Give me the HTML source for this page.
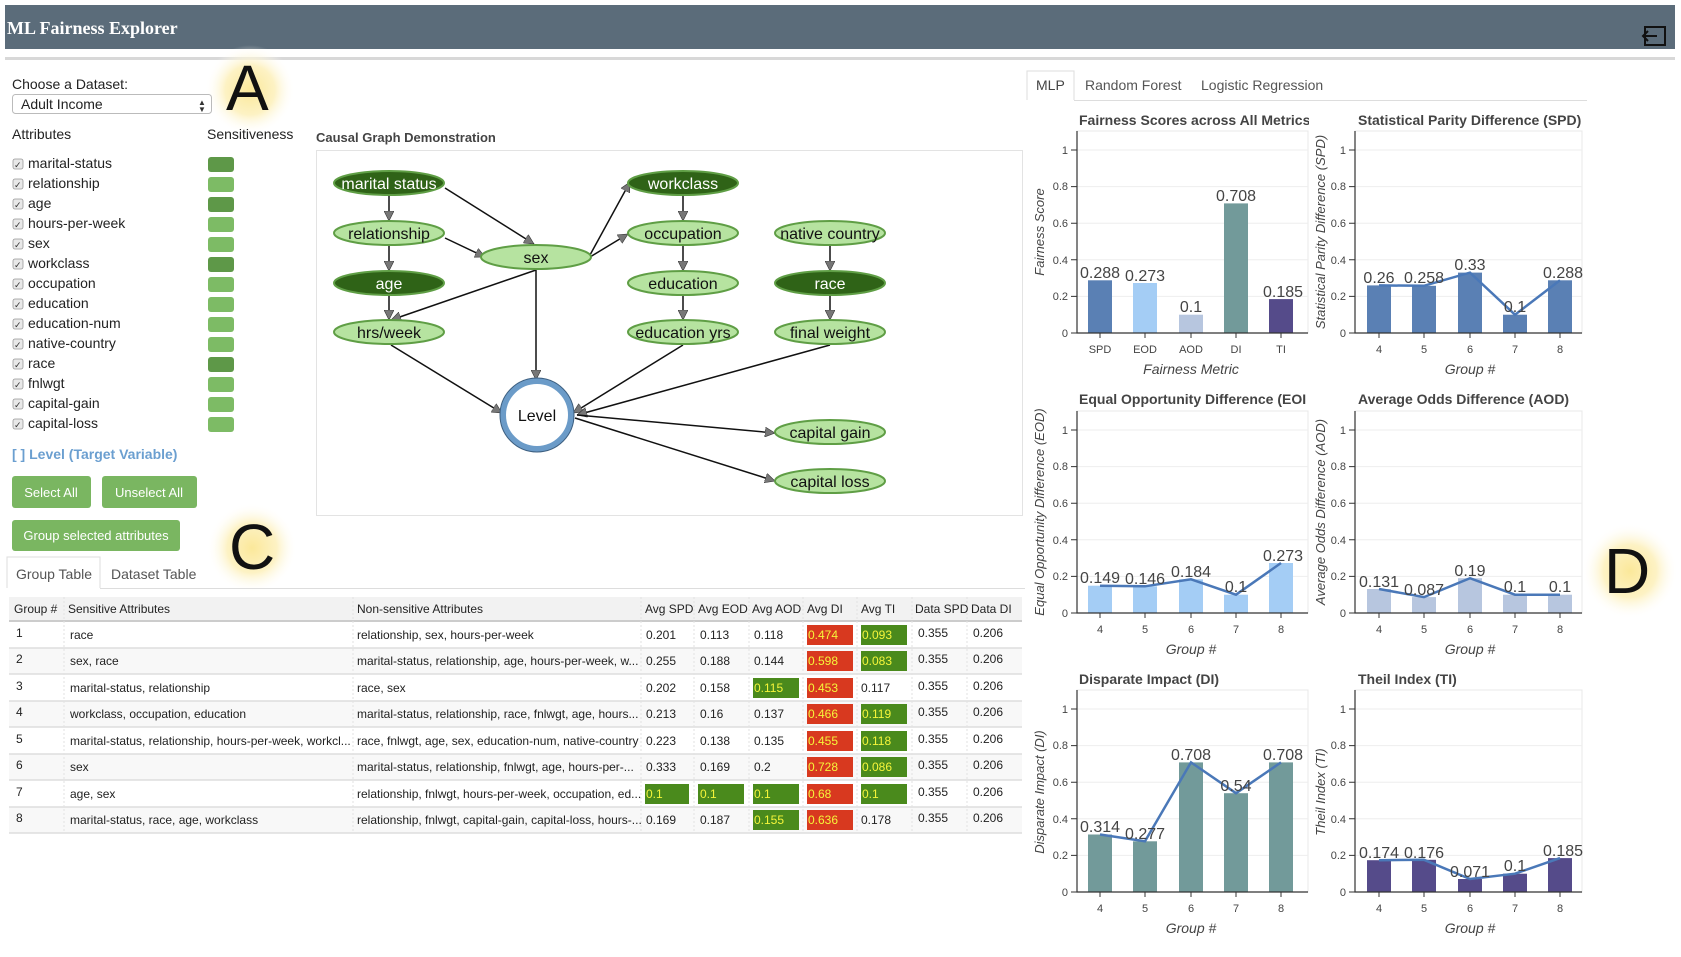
<!DOCTYPE html>
<html><head><meta charset="utf-8"><style>
body{margin:0;background:#fff;}
svg text{font-family:"Liberation Sans",sans-serif;}
</style></head><body>
<svg width="1681" height="952" viewBox="0 0 1681 952" xmlns="http://www.w3.org/2000/svg">
<defs>
<radialGradient id="glow"><stop offset="0" stop-color="#fbe89a"/><stop offset="0.55" stop-color="#fdf2c4"/><stop offset="1" stop-color="#fff" stop-opacity="0"/></radialGradient>
<marker id="ah" viewBox="0 0 10 10" refX="10" refY="5" markerWidth="10" markerHeight="10" markerUnits="userSpaceOnUse" orient="auto"><path d="M0,0 L10,5 L0,10 z" fill="#777" stroke="#333" stroke-width="0.6"/></marker>
</defs>
<rect width="1681" height="952" fill="#fff"/>
<rect x="5" y="5" width="1670" height="44" fill="#5b6c7a"/>
<text x="7" y="34" font-weight="bold" font-size="18" fill="#fff" style="font-family:'Liberation Serif',serif">ML Fairness Explorer</text>
<rect x="1645" y="27" width="20" height="18" fill="none" stroke="#111" stroke-width="2"/>
<path d="M1643 36 h14 M1648 31 l-5 5 5 5" stroke="#111" stroke-width="2" fill="none"/>
<rect x="5" y="57" width="1670" height="3" fill="#d8d8d8"/>

<circle cx="250" cy="90" r="45" fill="url(#glow)"/>
<circle cx="252" cy="548" r="45" fill="url(#glow)"/>
<circle cx="960" cy="340" r="48" fill="url(#glow)"/>
<circle cx="1630" cy="571" r="48" fill="url(#glow)"/>
<text x="226" y="110" font-size="64" fill="#111">A</text>
<text x="229" y="569" font-size="64" fill="#111">C</text>
<text x="938" y="362" font-size="64" fill="#111">B</text>
<text x="1604" y="593" font-size="64" fill="#111">D</text>

<text x="12" y="89" font-size="14" fill="#222">Choose a Dataset:</text>
<rect x="12.5" y="94.5" width="199" height="19" rx="3" fill="#fff" stroke="#bbb"/>
<text x="21" y="109" font-size="14" fill="#222">Adult Income</text>
<text x="198" y="105" font-size="8" fill="#333">▲</text><text x="198" y="112" font-size="8" fill="#333">▼</text>
<text x="12" y="139" font-size="14" fill="#222">Attributes</text>
<text x="207" y="139" font-size="14" fill="#222">Sensitiveness</text>
<g font-size="14" fill="#222">
<text x="28" y="168">marital-status</text>
<text x="28" y="188">relationship</text>
<text x="28" y="208">age</text>
<text x="28" y="228">hours-per-week</text>
<text x="28" y="248">sex</text>
<text x="28" y="268">workclass</text>
<text x="28" y="288">occupation</text>
<text x="28" y="308">education</text>
<text x="28" y="328">education-num</text>
<text x="28" y="348">native-country</text>
<text x="28" y="368">race</text>
<text x="28" y="388">fnlwgt</text>
<text x="28" y="408">capital-gain</text>
<text x="28" y="428">capital-loss</text>
</g>
<g fill="#e8e8e8" stroke="#999" stroke-width="0.8">
<rect x="13" y="159" width="10" height="10" rx="2"/><rect x="13" y="179" width="10" height="10" rx="2"/><rect x="13" y="199" width="10" height="10" rx="2"/><rect x="13" y="219" width="10" height="10" rx="2"/><rect x="13" y="239" width="10" height="10" rx="2"/><rect x="13" y="259" width="10" height="10" rx="2"/><rect x="13" y="279" width="10" height="10" rx="2"/><rect x="13" y="299" width="10" height="10" rx="2"/><rect x="13" y="319" width="10" height="10" rx="2"/><rect x="13" y="339" width="10" height="10" rx="2"/><rect x="13" y="359" width="10" height="10" rx="2"/><rect x="13" y="379" width="10" height="10" rx="2"/><rect x="13" y="399" width="10" height="10" rx="2"/><rect x="13" y="419" width="10" height="10" rx="2"/>
</g>
<g font-size="9" fill="#333">
<text x="14" y="168">✓</text><text x="14" y="188">✓</text><text x="14" y="208">✓</text><text x="14" y="228">✓</text><text x="14" y="248">✓</text><text x="14" y="268">✓</text><text x="14" y="288">✓</text><text x="14" y="308">✓</text><text x="14" y="328">✓</text><text x="14" y="348">✓</text><text x="14" y="368">✓</text><text x="14" y="388">✓</text><text x="14" y="408">✓</text><text x="14" y="428">✓</text>
</g>
<g>
<rect x="208" y="157" width="26" height="15" rx="3" fill="#5e9848"/>
<rect x="208" y="177" width="26" height="15" rx="3" fill="#7dbb65"/>
<rect x="208" y="197" width="26" height="15" rx="3" fill="#5e9848"/>
<rect x="208" y="217" width="26" height="15" rx="3" fill="#7dbb65"/>
<rect x="208" y="237" width="26" height="15" rx="3" fill="#7dbb65"/>
<rect x="208" y="257" width="26" height="15" rx="3" fill="#5e9848"/>
<rect x="208" y="277" width="26" height="15" rx="3" fill="#7dbb65"/>
<rect x="208" y="297" width="26" height="15" rx="3" fill="#7dbb65"/>
<rect x="208" y="317" width="26" height="15" rx="3" fill="#7dbb65"/>
<rect x="208" y="337" width="26" height="15" rx="3" fill="#7dbb65"/>
<rect x="208" y="357" width="26" height="15" rx="3" fill="#5e9848"/>
<rect x="208" y="377" width="26" height="15" rx="3" fill="#7dbb65"/>
<rect x="208" y="397" width="26" height="15" rx="3" fill="#7dbb65"/>
<rect x="208" y="417" width="26" height="15" rx="3" fill="#7dbb65"/>
</g>
<text x="12" y="459" font-size="14" font-weight="bold" fill="#6b9fd0">[ ] Level (Target Variable)</text>
<rect x="12" y="476" width="79" height="32" rx="3" fill="#7ab661"/>
<text x="51" y="497" font-size="13" fill="#fff" text-anchor="middle">Select All</text>
<rect x="102" y="476" width="95" height="32" rx="3" fill="#7ab661"/>
<text x="149" y="497" font-size="13" fill="#fff" text-anchor="middle">Unselect All</text>
<rect x="12" y="520" width="168" height="31" rx="3" fill="#7ab661"/>
<text x="96" y="540" font-size="13" fill="#fff" text-anchor="middle">Group selected attributes</text>

<path d="M7 588 V557 H100 V588" fill="#fff" stroke="#ddd"/>
<line x1="7" y1="588.5" x2="1025" y2="588.5" stroke="#ddd"/>
<line x1="7" y1="588.5" x2="100" y2="588.5" stroke="#fff"/>
<text x="16" y="579" font-size="14" fill="#555">Group Table</text>
<text x="111" y="579" font-size="14" fill="#555">Dataset Table</text>

<rect x="9" y="597" width="1013" height="24" fill="#f2f2f2"/>
<line x1="9" y1="621" x2="1022" y2="621" stroke="#ccc" stroke-width="2"/>
<g fill="#f8f8f8">
<rect x="9" y="648" width="1013" height="26"/><rect x="9" y="701" width="1013" height="26"/><rect x="9" y="754" width="1013" height="26"/><rect x="9" y="807" width="1013" height="26"/>
</g>
<g stroke="#ddd" stroke-width="1.5">
<line x1="9" y1="648" x2="1022" y2="648"/><line x1="9" y1="674" x2="1022" y2="674"/><line x1="9" y1="701" x2="1022" y2="701"/><line x1="9" y1="727" x2="1022" y2="727"/><line x1="9" y1="754" x2="1022" y2="754"/><line x1="9" y1="780" x2="1022" y2="780"/><line x1="9" y1="807" x2="1022" y2="807"/><line x1="9" y1="833" x2="1022" y2="833"/>
</g>
<g stroke="#e2e2e2" stroke-dasharray="2,2">
<line x1="64" y1="597" x2="64" y2="833"/><line x1="353" y1="597" x2="353" y2="833"/><line x1="641" y1="597" x2="641" y2="833"/><line x1="694" y1="597" x2="694" y2="833"/><line x1="749" y1="597" x2="749" y2="833"/><line x1="803" y1="597" x2="803" y2="833"/><line x1="857" y1="597" x2="857" y2="833"/><line x1="912" y1="597" x2="912" y2="833"/><line x1="967" y1="597" x2="967" y2="833"/>
</g>
<g fill="#d8391f">
<rect x="807" y="625" width="46" height="20"/><rect x="807" y="651" width="46" height="20"/><rect x="807" y="678" width="46" height="20"/><rect x="807" y="704" width="46" height="20"/><rect x="807" y="731" width="46" height="20"/><rect x="807" y="757" width="46" height="20"/><rect x="807" y="784" width="46" height="20"/><rect x="807" y="810" width="46" height="20"/>
</g>
<g fill="#4a8a1c">
<rect x="861" y="625" width="46" height="20"/><rect x="861" y="651" width="46" height="20"/><rect x="861" y="704" width="46" height="20"/><rect x="861" y="731" width="46" height="20"/><rect x="861" y="757" width="46" height="20"/><rect x="861" y="784" width="46" height="20"/>
<rect x="753" y="678" width="46" height="20"/><rect x="753" y="784" width="46" height="20"/><rect x="753" y="810" width="46" height="20"/>
<rect x="645" y="784" width="44" height="20"/><rect x="698" y="784" width="46" height="20"/>
</g>
<g font-size="12" fill="#222">
<text x="14" y="613">Group #</text><text x="68" y="613">Sensitive Attributes</text><text x="357" y="613">Non-sensitive Attributes</text><text x="645" y="613">Avg SPD</text><text x="698" y="613">Avg EOD</text><text x="752" y="613">Avg AOD</text><text x="807" y="613">Avg DI</text><text x="861" y="613">Avg TI</text><text x="915" y="613">Data SPD</text><text x="971" y="613">Data DI</text>
</g>
<g font-size="12" fill="#222">
<text x="16" y="637">1</text><text x="70" y="639">race</text><text x="357" y="639">relationship, sex, hours-per-week</text><text x="646" y="639">0.201</text><text x="700" y="639">0.113</text><text x="754" y="639">0.118</text><text x="918" y="637">0.355</text><text x="973" y="637">0.206</text>
<text x="16" y="663">2</text><text x="70" y="665">sex, race</text><text x="357" y="665">marital-status, relationship, age, hours-per-week, w...</text><text x="646" y="665">0.255</text><text x="700" y="665">0.188</text><text x="754" y="665">0.144</text><text x="918" y="663">0.355</text><text x="973" y="663">0.206</text>
<text x="16" y="690">3</text><text x="70" y="692">marital-status, relationship</text><text x="357" y="692">race, sex</text><text x="646" y="692">0.202</text><text x="700" y="692">0.158</text><text x="861" y="692">0.117</text><text x="918" y="690">0.355</text><text x="973" y="690">0.206</text>
<text x="16" y="716">4</text><text x="70" y="718">workclass, occupation, education</text><text x="357" y="718">marital-status, relationship, race, fnlwgt, age, hours...</text><text x="646" y="718">0.213</text><text x="700" y="718">0.16</text><text x="754" y="718">0.137</text><text x="918" y="716">0.355</text><text x="973" y="716">0.206</text>
<text x="16" y="743">5</text><text x="70" y="745">marital-status, relationship, hours-per-week, workcl...</text><text x="357" y="745">race, fnlwgt, age, sex, education-num, native-country</text><text x="646" y="745">0.223</text><text x="700" y="745">0.138</text><text x="754" y="745">0.135</text><text x="918" y="743">0.355</text><text x="973" y="743">0.206</text>
<text x="16" y="769">6</text><text x="70" y="771">sex</text><text x="357" y="771">marital-status, relationship, fnlwgt, age, hours-per-...</text><text x="646" y="771">0.333</text><text x="700" y="771">0.169</text><text x="754" y="771">0.2</text><text x="918" y="769">0.355</text><text x="973" y="769">0.206</text>
<text x="16" y="796">7</text><text x="70" y="798">age, sex</text><text x="357" y="798">relationship, fnlwgt, hours-per-week, occupation, ed...</text><text x="918" y="796">0.355</text><text x="973" y="796">0.206</text>
<text x="16" y="822">8</text><text x="70" y="824">marital-status, race, age, workclass</text><text x="357" y="824">relationship, fnlwgt, capital-gain, capital-loss, hours-...</text><text x="646" y="824">0.169</text><text x="700" y="824">0.187</text><text x="861" y="824">0.178</text><text x="918" y="822">0.355</text><text x="973" y="822">0.206</text>
</g>
<g font-size="12" fill="#f5f53a">
<text x="808" y="639">0.474</text><text x="808" y="665">0.598</text><text x="808" y="692">0.453</text><text x="808" y="718">0.466</text><text x="808" y="745">0.455</text><text x="808" y="771">0.728</text><text x="808" y="798">0.68</text><text x="808" y="824">0.636</text>
<text x="862" y="639">0.093</text><text x="862" y="665">0.083</text><text x="862" y="718">0.119</text><text x="862" y="745">0.118</text><text x="862" y="771">0.086</text><text x="862" y="798">0.1</text>
<text x="754" y="692">0.115</text><text x="754" y="798">0.1</text><text x="754" y="824">0.155</text>
<text x="646" y="798">0.1</text><text x="700" y="798">0.1</text>
</g>

<text x="316" y="142" font-size="13" font-weight="bold" fill="#444">Causal Graph Demonstration</text>
<rect x="316.5" y="150.5" width="706" height="365" fill="#fff" stroke="#e3e3e3"/>
<g stroke="#111" stroke-width="1.5" marker-end="url(#ah)">
<line x1="389" y1="195" x2="389" y2="221"/>
<line x1="389" y1="245" x2="389" y2="271"/>
<line x1="389" y1="295" x2="389" y2="320"/>
<line x1="445" y1="188" x2="534" y2="244"/>
<line x1="445" y1="238" x2="485" y2="257"/>
<line x1="536" y1="270" x2="391" y2="320"/>
<line x1="536" y1="270" x2="536" y2="380"/>
<line x1="590" y1="255" x2="630" y2="182"/>
<line x1="590" y1="257" x2="628" y2="234"/>
<line x1="683" y1="195" x2="683" y2="221"/>
<line x1="683" y1="245" x2="683" y2="271"/>
<line x1="683" y1="295" x2="683" y2="320"/>
<line x1="830" y1="245" x2="830" y2="271"/>
<line x1="830" y1="295" x2="830" y2="320"/>
<line x1="391" y1="345" x2="502" y2="413"/>
<line x1="683" y1="345" x2="573" y2="413"/>
<line x1="830" y1="345" x2="577" y2="415"/>
<line x1="577" y1="415" x2="775" y2="433"/>
<line x1="575" y1="418" x2="775" y2="481"/>
</g>
<g stroke="#5f9e45" stroke-width="2">
<ellipse cx="389" cy="183" rx="55" ry="12" fill="#2f6317"/>
<ellipse cx="389" cy="233" rx="55" ry="12" fill="#b6e3a0"/>
<ellipse cx="389" cy="283" rx="55" ry="12" fill="#2f6317"/>
<ellipse cx="389" cy="332" rx="55" ry="12" fill="#b6e3a0"/>
<ellipse cx="536" cy="257" rx="55" ry="12" fill="#b6e3a0"/>
<ellipse cx="683" cy="183" rx="55" ry="12" fill="#2f6317"/>
<ellipse cx="683" cy="233" rx="55" ry="12" fill="#b6e3a0"/>
<ellipse cx="683" cy="283" rx="55" ry="12" fill="#b6e3a0"/>
<ellipse cx="683" cy="332" rx="55" ry="12" fill="#b6e3a0"/>
<ellipse cx="830" cy="233" rx="55" ry="12" fill="#b6e3a0"/>
<ellipse cx="830" cy="283" rx="55" ry="12" fill="#2f6317"/>
<ellipse cx="830" cy="332" rx="55" ry="12" fill="#b6e3a0"/>
<ellipse cx="830" cy="432" rx="55" ry="12" fill="#b6e3a0"/>
<ellipse cx="830" cy="481" rx="55" ry="12" fill="#b6e3a0"/>
</g>
<circle cx="537" cy="415" r="34" fill="#fff" stroke="#6b9bc8" stroke-width="6"/>
<circle cx="537" cy="415" r="37" fill="none" stroke="#3d5f80" stroke-width="1"/>
<g font-size="16" text-anchor="middle">
<text x="389" y="189" fill="#fff">marital status</text>
<text x="389" y="239" fill="#111">relationship</text>
<text x="389" y="289" fill="#fff">age</text>
<text x="389" y="338" fill="#111">hrs/week</text>
<text x="536" y="263" fill="#111">sex</text>
<text x="683" y="189" fill="#fff">workclass</text>
<text x="683" y="239" fill="#111">occupation</text>
<text x="683" y="289" fill="#111">education</text>
<text x="683" y="338" fill="#111">education yrs</text>
<text x="830" y="239" fill="#111">native country</text>
<text x="830" y="289" fill="#fff">race</text>
<text x="830" y="338" fill="#111">final weight</text>
<text x="830" y="438" fill="#111">capital gain</text>
<text x="830" y="487" fill="#111">capital loss</text>
<text x="537" y="421" fill="#111">Level</text>
</g>

<path d="M1027 100 V71 H1074 V100" fill="#fff" stroke="#ddd"/>
<line x1="1027" y1="100.5" x2="1587" y2="100.5" stroke="#ddd"/>
<line x1="1027" y1="100.5" x2="1074" y2="100.5" stroke="#fff"/>
<text x="1036" y="90" font-size="14" fill="#444">MLP</text>
<text x="1085" y="90" font-size="14" fill="#555">Random Forest</text>
<text x="1201" y="90" font-size="14" fill="#555">Logistic Regression</text>

<g fill="none" stroke="#e8e8e8">
<rect x="1077" y="131" width="231" height="202"/><rect x="1355" y="131" width="227" height="202"/>
<rect x="1077" y="411" width="231" height="202"/><rect x="1355" y="411" width="227" height="202"/>
<rect x="1077" y="690" width="231" height="202"/><rect x="1355" y="690" width="227" height="202"/>
</g>
<g stroke="#eee" fill="none">
<path d="M1077 150H1308M1077 186.6H1308M1077 223.2H1308M1077 259.8H1308M1077 296.4H1308"/>
<path d="M1355 150H1582M1355 186.6H1582M1355 223.2H1582M1355 259.8H1582M1355 296.4H1582"/>
<path d="M1077 430H1308M1077 466.6H1308M1077 503.2H1308M1077 539.8H1308M1077 576.4H1308"/>
<path d="M1355 430H1582M1355 466.6H1582M1355 503.2H1582M1355 539.8H1582M1355 576.4H1582"/>
<path d="M1077 709H1308M1077 745.6H1308M1077 782.2H1308M1077 818.8H1308M1077 855.4H1308"/>
<path d="M1355 709H1582M1355 745.6H1582M1355 782.2H1582M1355 818.8H1582M1355 855.4H1582"/>
</g>
<g font-size="14" font-weight="bold" fill="#444">
<text x="1079" y="125">Fairness Scores across All Metrics</text>
<text x="1358" y="125">Statistical Parity Difference (SPD)</text>
<text x="1079" y="404">Equal Opportunity Difference (EOI</text>
<text x="1358" y="404">Average Odds Difference (AOD)</text>
<text x="1079" y="684">Disparate Impact (DI)</text>
<text x="1358" y="684">Theil Index (TI)</text>
</g>
<rect x="1309" y="110" width="44" height="20" fill="#fff"/>
<rect x="1309" y="390" width="44" height="20" fill="#fff"/>

<rect x="1088" y="280.3" width="24" height="52.7" fill="#5a80b4"/>
<rect x="1133" y="283" width="24" height="50" fill="#a4cdf5"/>
<rect x="1179" y="314.7" width="24" height="18.3" fill="#b7c6df"/>
<rect x="1224" y="203.4" width="24" height="129.6" fill="#729a9a"/>
<rect x="1269" y="299.1" width="24" height="33.9" fill="#554b8a"/>
<g fill="#5a80b4"><rect x="1367" y="285.4" width="24" height="47.6"/><rect x="1412" y="285.8" width="24" height="47.2"/><rect x="1458" y="272.6" width="24" height="60.4"/><rect x="1503" y="314.7" width="24" height="18.3"/><rect x="1548" y="280.3" width="24" height="52.7"/></g>
<g fill="#a4cdf5"><rect x="1088" y="585.7" width="24" height="27.3"/><rect x="1133" y="586.3" width="24" height="26.7"/><rect x="1179" y="579.3" width="24" height="33.7"/><rect x="1224" y="594.7" width="24" height="18.3"/><rect x="1269" y="563" width="24" height="50"/></g>
<g fill="#b7c6df"><rect x="1367" y="589" width="24" height="24"/><rect x="1412" y="597.1" width="24" height="15.9"/><rect x="1458" y="578.2" width="24" height="34.8"/><rect x="1503" y="594.7" width="24" height="18.3"/><rect x="1548" y="594.7" width="24" height="18.3"/></g>
<g fill="#729a9a"><rect x="1088" y="834.5" width="24" height="57.5"/><rect x="1133" y="841.3" width="24" height="50.7"/><rect x="1179" y="762.4" width="24" height="129.6"/><rect x="1224" y="793.2" width="24" height="98.8"/><rect x="1269" y="762.4" width="24" height="129.6"/></g>
<g fill="#554b8a"><rect x="1367" y="860.2" width="24" height="31.8"/><rect x="1412" y="859.8" width="24" height="32.2"/><rect x="1458" y="879" width="24" height="13"/><rect x="1503" y="873.7" width="24" height="18.3"/><rect x="1548" y="858.1" width="24" height="33.9"/></g>
<g fill="none" stroke="#4a78b8" stroke-width="2.5">
<polyline points="1379,285.4 1424,285.8 1470,272.6 1515,314.7 1560,280.3"/>
<polyline points="1100,585.7 1145,586.3 1191,579.3 1236,594.7 1281,563"/>
<polyline points="1379,589 1424,597.1 1470,578.2 1515,594.7 1560,594.7"/>
<polyline points="1100,834.5 1145,841.3 1191,762.4 1236,793.2 1281,762.4"/>
<polyline points="1379,860.2 1424,859.8 1470,879 1515,873.7 1560,858.1"/>
</g>
<g font-size="16" fill="#444" text-anchor="middle">
<text x="1100" y="278">0.288</text><text x="1145" y="281">0.273</text><text x="1191" y="312">0.1</text><text x="1236" y="201">0.708</text><text x="1283" y="297">0.185</text>
<text x="1379" y="283">0.26</text><text x="1424" y="283">0.258</text><text x="1470" y="270">0.33</text><text x="1515" y="312">0.1</text><text x="1563" y="278">0.288</text>
<text x="1100" y="583">0.149</text><text x="1145" y="584">0.146</text><text x="1191" y="577">0.184</text><text x="1236" y="592">0.1</text><text x="1283" y="561">0.273</text>
<text x="1379" y="587">0.131</text><text x="1424" y="595">0.087</text><text x="1470" y="576">0.19</text><text x="1515" y="592">0.1</text><text x="1560" y="592">0.1</text>
<text x="1100" y="832">0.314</text><text x="1145" y="839">0.277</text><text x="1191" y="760">0.708</text><text x="1236" y="791">0.54</text><text x="1283" y="760">0.708</text>
<text x="1379" y="858">0.174</text><text x="1424" y="858">0.176</text><text x="1470" y="877">0.071</text><text x="1515" y="871">0.1</text><text x="1563" y="856">0.185</text>
</g>
<rect x="1309" y="250" width="44" height="40" fill="#fff"/>
<rect x="1309" y="550" width="44" height="20" fill="#fff"/>
<rect x="1309" y="740" width="44" height="25" fill="#fff"/>
<rect x="1583" y="250" width="30" height="40" fill="#fff"/>
<rect x="1583" y="840" width="30" height="20" fill="#fff"/>
<g stroke="#333" stroke-width="1.2" fill="none">
<path d="M1077 131V333H1308M1355 131V333H1582M1077 411V613H1308M1355 411V613H1582M1077 690V892H1308M1355 690V892H1582"/>
</g>
<g stroke="#333" stroke-width="1" fill="none">
<path d="M1071 150h6M1071 186.6h6M1071 223.2h6M1071 259.8h6M1071 296.4h6M1071 333h6"/>
<path d="M1349 150h6M1349 186.6h6M1349 223.2h6M1349 259.8h6M1349 296.4h6M1349 333h6"/>
<path d="M1071 430h6M1071 466.6h6M1071 503.2h6M1071 539.8h6M1071 576.4h6M1071 613h6"/>
<path d="M1349 430h6M1349 466.6h6M1349 503.2h6M1349 539.8h6M1349 576.4h6M1349 613h6"/>
<path d="M1071 709h6M1071 745.6h6M1071 782.2h6M1071 818.8h6M1071 855.4h6M1071 892h6"/>
<path d="M1349 709h6M1349 745.6h6M1349 782.2h6M1349 818.8h6M1349 855.4h6M1349 892h6"/>
<path d="M1100 333v5M1145 333v5M1191 333v5M1236 333v5M1281 333v5M1379 333v5M1424 333v5M1470 333v5M1515 333v5M1560 333v5"/>
<path d="M1100 613v5M1145 613v5M1191 613v5M1236 613v5M1281 613v5M1379 613v5M1424 613v5M1470 613v5M1515 613v5M1560 613v5"/>
<path d="M1100 892v5M1145 892v5M1191 892v5M1236 892v5M1281 892v5M1379 892v5M1424 892v5M1470 892v5M1515 892v5M1560 892v5"/>
</g>
<g font-size="11" fill="#444" text-anchor="end">
<text x="1068" y="154">1</text><text x="1068" y="190">0.8</text><text x="1068" y="227">0.6</text><text x="1068" y="264">0.4</text><text x="1068" y="300">0.2</text><text x="1068" y="337">0</text>
<text x="1346" y="154">1</text><text x="1346" y="190">0.8</text><text x="1346" y="227">0.6</text><text x="1346" y="264">0.4</text><text x="1346" y="300">0.2</text><text x="1346" y="337">0</text>
<text x="1068" y="434">1</text><text x="1068" y="470">0.8</text><text x="1068" y="507">0.6</text><text x="1068" y="544">0.4</text><text x="1068" y="580">0.2</text><text x="1068" y="617">0</text>
<text x="1346" y="434">1</text><text x="1346" y="470">0.8</text><text x="1346" y="507">0.6</text><text x="1346" y="544">0.4</text><text x="1346" y="580">0.2</text><text x="1346" y="617">0</text>
<text x="1068" y="713">1</text><text x="1068" y="749">0.8</text><text x="1068" y="786">0.6</text><text x="1068" y="823">0.4</text><text x="1068" y="859">0.2</text><text x="1068" y="896">0</text>
<text x="1346" y="713">1</text><text x="1346" y="749">0.8</text><text x="1346" y="786">0.6</text><text x="1346" y="823">0.4</text><text x="1346" y="859">0.2</text><text x="1346" y="896">0</text>
</g>
<g font-size="11" fill="#444" text-anchor="middle">
<text x="1100" y="353">SPD</text><text x="1145" y="353">EOD</text><text x="1191" y="353">AOD</text><text x="1236" y="353">DI</text><text x="1281" y="353">TI</text>
<text x="1379" y="353">4</text><text x="1424" y="353">5</text><text x="1470" y="353">6</text><text x="1515" y="353">7</text><text x="1560" y="353">8</text>
<text x="1100" y="633">4</text><text x="1145" y="633">5</text><text x="1191" y="633">6</text><text x="1236" y="633">7</text><text x="1281" y="633">8</text>
<text x="1379" y="633">4</text><text x="1424" y="633">5</text><text x="1470" y="633">6</text><text x="1515" y="633">7</text><text x="1560" y="633">8</text>
<text x="1100" y="912">4</text><text x="1145" y="912">5</text><text x="1191" y="912">6</text><text x="1236" y="912">7</text><text x="1281" y="912">8</text>
<text x="1379" y="912">4</text><text x="1424" y="912">5</text><text x="1470" y="912">6</text><text x="1515" y="912">7</text><text x="1560" y="912">8</text>
</g>
<g font-size="14" font-style="italic" fill="#444" text-anchor="middle">
<text x="1191" y="374">Fairness Metric</text><text x="1470" y="374">Group #</text>
<text x="1191" y="654">Group #</text><text x="1470" y="654">Group #</text>
<text x="1191" y="933">Group #</text><text x="1470" y="933">Group #</text>
</g>
<g font-size="13" font-style="italic" fill="#444" text-anchor="middle">
<text transform="translate(1044,232) rotate(-90)">Fairness Score</text>
<text transform="translate(1325,232) rotate(-90)">Statistical Parity Difference (SPD)</text>
<text transform="translate(1044,512) rotate(-90)">Equal Opportunity Difference (EOD)</text>
<text transform="translate(1325,512) rotate(-90)">Average Odds Difference (AOD)</text>
<text transform="translate(1044,792) rotate(-90)">Disparate Impact (DI)</text>
<text transform="translate(1325,792) rotate(-90)">Theil Index (TI)</text>
</g>
</svg>
</body></html>
